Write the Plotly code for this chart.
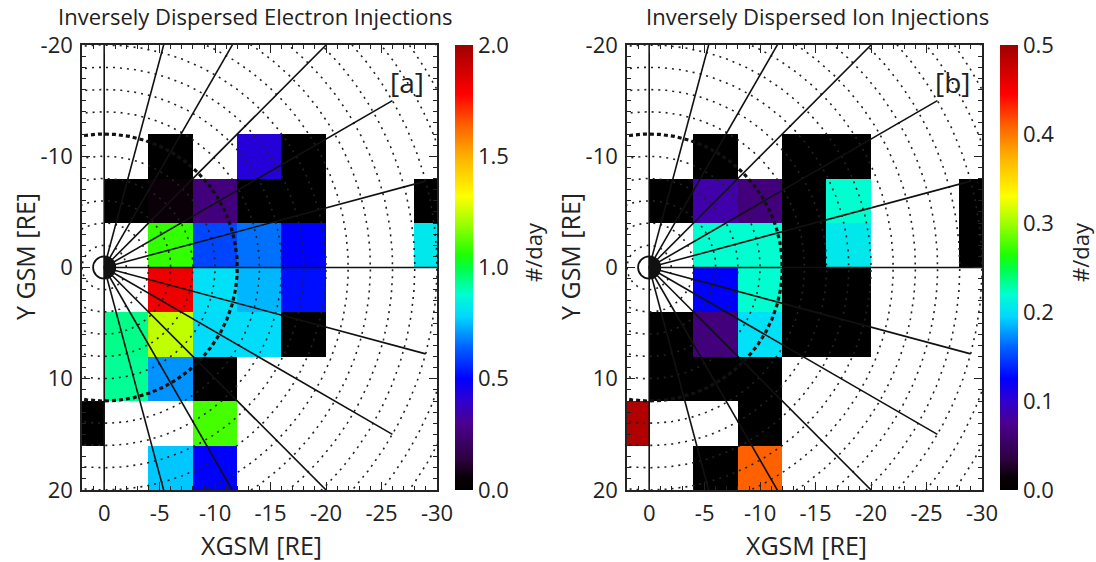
import numpy as np
import plotly.graph_objects as go

# Bin centres (RE). Bins are 4 RE wide in both X and Y.
x_centers = [2, -2, -6, -10, -14, -18, -22, -26, -30]
y_centers = [-10, -6, -2, 2, 6, 10, 14, 18]

N = None
# Occurrence rate of inversely dispersed electron injections (#/day)
electron_rate = [
    [N, N, 0.00, N, 0.42, 0.00, N, N, N],
    [N, 0.00, 0.06, 0.26, 0.00, 0.00, N, N, 0.00],
    [N, N, 1.08, 0.60, 0.66, 0.50, N, N, 0.82],
    [N, N, 1.82, 0.80, 0.74, 0.52, N, N, N],
    [N, 0.94, 1.24, 0.79, 0.79, 0.00, N, N, N],
    [N, 0.93, 0.70, 0.00, N, N, N, N, N],
    [0.00, N, N, 1.10, N, N, N, N, N],
    [N, N, 0.76, 0.50, N, N, N, N, N],
]
# Occurrence rate of inversely dispersed ion injections (#/day)
ion_rate = [
    [N, N, 0.00, N, 0.00, 0.00, N, N, N],
    [N, 0.00, 0.085, 0.065, 0.00, 0.22, N, N, 0.00],
    [N, N, 0.22, 0.22, 0.00, 0.205, N, N, 0.00],
    [N, N, 0.125, 0.22, 0.00, 0.00, N, N, N],
    [N, 0.00, 0.065, 0.20, 0.00, 0.00, N, N, N],
    [N, 0.00, 0.00, 0.00, N, N, N, N, N],
    [0.49, N, N, 0.00, N, N, N, N, N],
    [N, N, 0.00, 0.41, N, N, N, N, N],
]

titles = ["Inversely Dispersed Electron Injections", "Inversely Dispersed Ion Injections"]
panel_tags = ["[a]", "[b]"]
zmax_values = [2.0, 0.5]
cbar_ticks = [[0.0, 0.5, 1.0, 1.5, 2.0], [0.0, 0.1, 0.2, 0.3, 0.4, 0.5]]
x_ticks = [0, -5, -10, -15, -20, -25, -30]
y_ticks = [-20, -10, 0, 10, 20]

# IDL-style rainbow: black -> purple -> blue -> cyan -> green -> yellow -> red
rainbow = [
    [0.00, "#000000"], [0.03, "#0a0008"], [0.07, "#2e0040"], [0.15, "#4a0090"],
    [0.20, "#3000d0"], [0.25, "#0000ff"], [0.32, "#0060ff"], [0.39, "#00d8ff"],
    [0.44, "#00ffd0"], [0.50, "#00ff40"], [0.53, "#20ff00"], [0.60, "#a0ff00"],
    [0.66, "#ffff00"], [0.75, "#ffb000"], [0.82, "#ff6000"], [0.89, "#ff0000"],
    [1.00, "#a00000"],
]

W, H = 1096, 562
FONT = "Open Sans"
TXT = "#222"
plot_left = [82, 627]
plot_w = 355
plot_top, plot_bot = 45, 490
cbar_left = [455, 1000]

def fx(px):
    return px / W

def fy(py):
    return 1 - py / H

def text_at(px, py, text, size, angle=0):
    fig.add_annotation(x=fx(px), y=fy(py), xref="paper", yref="paper",
                       xanchor="center", yanchor="middle", text=text,
                       showarrow=False, textangle=angle,
                       font=dict(family=FONT, size=size, color=TXT))

fig = go.Figure()

theta = np.linspace(0, 2 * np.pi, 721)
half = np.linspace(np.pi / 2, 3 * np.pi / 2, 61)
night_path = "M 0 -1 " + " ".join(
    f"L {np.cos(a):.4f} {np.sin(a):.4f}" for a in half) + " Z"

for i, z in enumerate([electron_rate, ion_rate]):
    xa = "x" if i == 0 else "x2"
    ya = "y" if i == 0 else "y2"
    fig.add_trace(go.Heatmap(
        x=x_centers, y=y_centers, z=z, zmin=0, zmax=zmax_values[i],
        colorscale=rainbow, xaxis=xa, yaxis=ya, hoverongaps=False,
        colorbar=dict(
            x=fx(cbar_left[i]), xanchor="left", xpad=0, ypad=0,
            y=fy(plot_bot), yanchor="bottom", len=(plot_bot - plot_top) / H,
            lenmode="fraction", thickness=18, outlinewidth=0,
            tickvals=cbar_ticks[i], ticktext=[f"{v:.1f}" for v in cbar_ticks[i]],
            ticks="", ticklabelposition="outside",
            tickfont=dict(family=FONT, size=22, color=TXT),
        ),
    ))

    # dotted range circles every 2 RE, thick dashed one at 12 RE
    for r in range(2, 42, 2):
        if r == 12:
            continue
        fig.add_trace(go.Scatter(
            x=r * np.cos(theta), y=r * np.sin(theta), mode="lines",
            line=dict(color="#222", width=1.6, dash="2px,5px"),
            xaxis=xa, yaxis=ya, hoverinfo="skip", showlegend=False))
    fig.add_trace(go.Scatter(
        x=12 * np.cos(theta), y=12 * np.sin(theta), mode="lines",
        line=dict(color="#111", width=3.2, dash="4px,3px"),
        xaxis=xa, yaxis=ya, hoverinfo="skip", showlegend=False))

    # radial spokes every 15 degrees on the night side
    sx, sy = [], []
    for deg in range(0, 181, 15):
        a = np.deg2rad(deg)
        sx += [0, -30 * np.sin(a), None]
        sy += [0, -30 * np.cos(a), None]
    fig.add_trace(go.Scatter(
        x=sx, y=sy, mode="lines", line=dict(color="#111", width=1.6),
        xaxis=xa, yaxis=ya, hoverinfo="skip", showlegend=False))

    # Earth: open dayside, dark nightside
    fig.add_shape(type="path", xref=xa, yref=ya, layer="above",
                  path=night_path, fillcolor="#111", line=dict(color="#111", width=1))
    fig.add_shape(type="circle", x0=-1, x1=1, y0=-1, y1=1, xref=xa, yref=ya,
                  line=dict(color="#111", width=1.8), fillcolor="rgba(0,0,0,0)",
                  layer="above")

    fig.add_annotation(x=-27.3, y=-16.7, xref=xa, yref=ya, text=panel_tags[i],
                       showarrow=False, font=dict(family=FONT, size=28, color=TXT))

    axis_common = dict(
        showgrid=False, zeroline=False, showline=True, linecolor="#222",
        linewidth=1.5, mirror="ticks", ticks="inside", ticklen=8,
        tickwidth=1.3, tickcolor="#222", ticklabelstandoff=3,
        tickfont=dict(family=FONT, size=22, color=TXT),
        minor=dict(ticks="inside", ticklen=4, tickwidth=1, tickcolor="#222", dtick=1),
    )
    fig.update_layout({
        ("xaxis" if i == 0 else "xaxis2"): dict(
            axis_common, domain=[fx(plot_left[i]), fx(plot_left[i] + plot_w)],
            range=[2, -30], tickvals=x_ticks, anchor=ya,
            ticktext=[str(v) for v in x_ticks]),
        ("yaxis" if i == 0 else "yaxis2"): dict(
            axis_common, domain=[fy(plot_bot), fy(plot_top)],
            range=[20, -20], tickvals=y_ticks, anchor=xa,
            ticktext=[str(v) for v in y_ticks]),
    })

    # panel title, axis titles and colour-bar title
    text_at([255, 817][i], 16, titles[i], 22)
    text_at(plot_left[i] + plot_w / 2 + 2, 545, "XGSM [RE]", 25)
    text_at(plot_left[i] - 57, 257, "Y GSM [RE]", 25, -90)
    text_at([533, 1080][i], 252, "#/day", 22, -90)

fig.update_layout(
    width=W, height=H, margin=dict(l=0, r=0, t=0, b=0, autoexpand=False),
    paper_bgcolor="white", plot_bgcolor="white", showlegend=False,
)

fig.write_html("out.html")
